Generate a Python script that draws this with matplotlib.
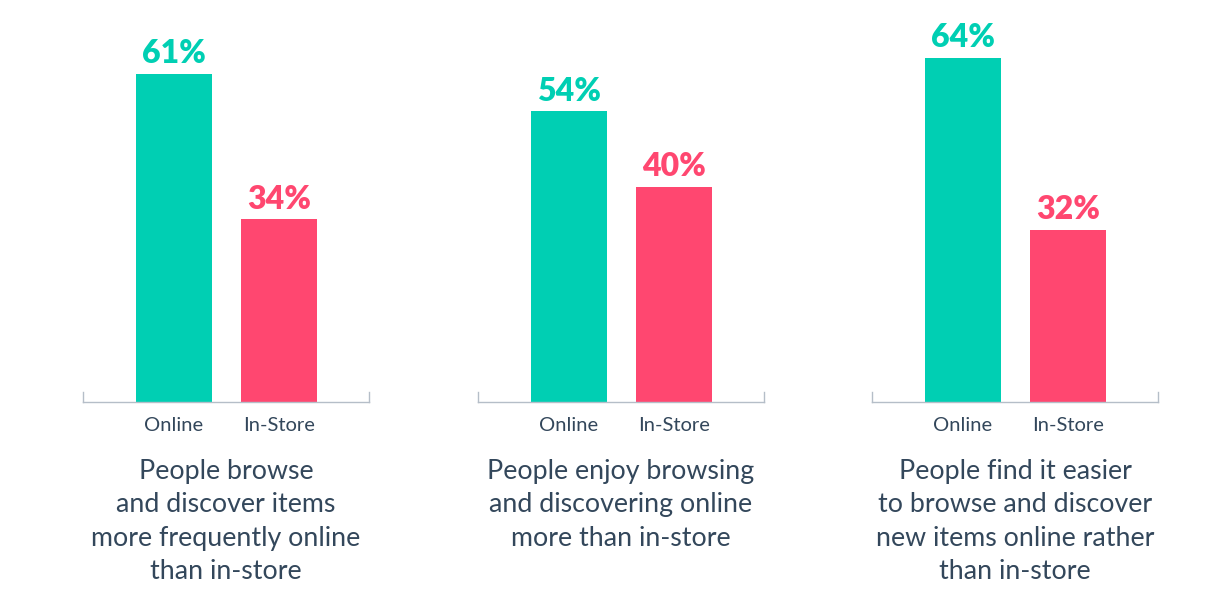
import matplotlib.pyplot as plt

plt.rcParams["font.family"] = ["Lato", "DejaVu Sans"]

channels = ["Online", "In-Store"]
online = [61, 54, 64]
in_store = [34, 40, 32]
captions = [
    "People browse\nand discover items\nmore frequently online\nthan in-store",
    "People enjoy browsing\nand discovering online\nmore than in-store",
    "People find it easier\nto browse and discover\nnew items online rather\nthan in-store",
]

TEAL = "#00cfb3"
PINK = "#ff4770"
INK = "#33475b"
AXIS = "#b5bec8"

W, H = 1224, 602
fig = plt.figure(figsize=(W / 100, H / 100), dpi=100)

panel_left = [83, 478, 872]
panel_w = 286
base_y = 402
px_per_pct = 5.38
ymax = 72
ax_h = ymax * px_per_pct
step = 105  # px between bar centers
first_off = 91  # px from axis start to first bar center

for i, left in enumerate(panel_left):
    ax = fig.add_axes([left / W, (H - base_y) / H, panel_w / W, ax_h / H])
    vals = [online[i], in_store[i]]
    ax.bar([0, 1], vals, width=76 / step, color=[TEAL, PINK])
    ax.set_xlim(-first_off / step, (panel_w - first_off) / step)
    ax.set_ylim(0, ymax)
    for x, v, c in zip([0, 1], vals, [TEAL, PINK]):
        ax.annotate(f"{v}%", (x, v), xytext=(0, 4), textcoords="offset points",
                    ha="center", va="bottom", fontsize=23, fontweight="heavy", color=c)
    ax.spines["top"].set_visible(False)
    for s in ["bottom", "left", "right"]:
        ax.spines[s].set_color(AXIS)
        ax.spines[s].set_linewidth(1.0)
    ax.spines["left"].set_bounds(0, 10 / px_per_pct)
    ax.spines["right"].set_bounds(0, 10 / px_per_pct)
    ax.set_yticks([])
    ax.set_xticks([0, 1])
    ax.set_xticklabels(channels, fontsize=14.5, color=INK)
    ax.tick_params(axis="x", length=0, pad=10.5)
    ax.patch.set_visible(False)

    fig.text((left + panel_w / 2) / W, (H - 459) / H, captions[i], ha="center", va="top",
             fontsize=19.3, color=INK, linespacing=1.42)

fig.savefig("out.png", dpi=100, facecolor="white")
